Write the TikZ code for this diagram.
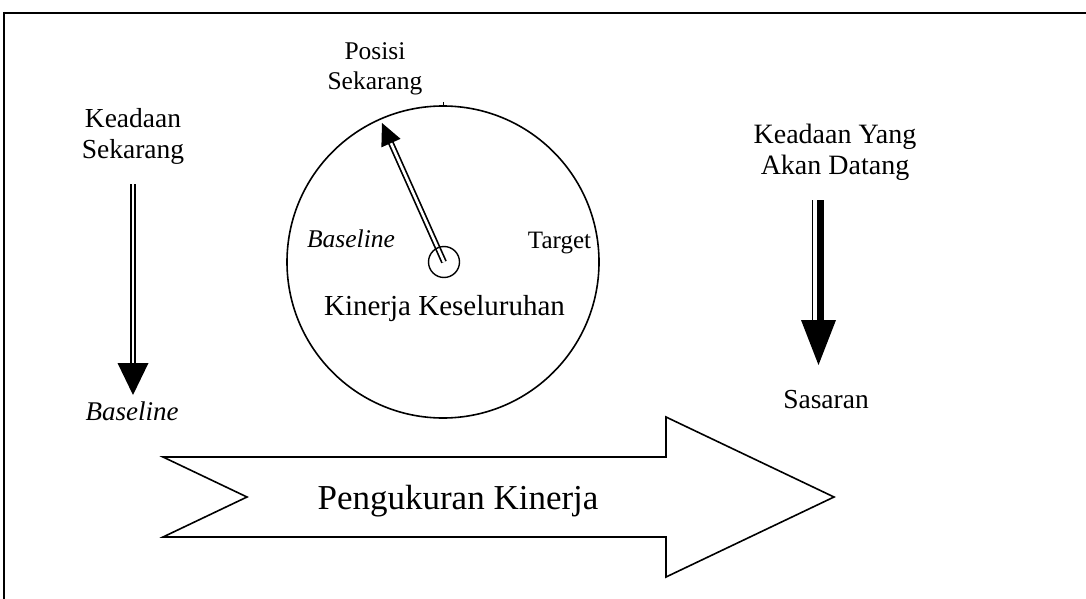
\documentclass[tikz,border=0pt]{standalone}
\usepackage{fontspec}
\setmainfont{Liberation Serif}
\usetikzlibrary{calc}

\tikzset{
  txt/.style={inner sep=0pt,anchor=base,align=center},
  dbl/.style={double,double distance=2pt,line width=2.2pt},
}

\begin{document}
\begin{tikzpicture}[x=1pt,y=-1pt]
  \useasboundingbox (0,0) rectangle (1086,599);
  % frame, open on the right and at the bottom
  \path[draw,line width=2.4pt] (3,13) -- (1086,13);
  \path[draw,line width=1.4pt] (4,12) -- (4,599);

  % left column (base = baseline of the last line)
  \node[txt,font=\fontsize{27.5}{31}\selectfont] (keadaan) at (133,158) {Keadaan\\Sekarang};
  \node[txt,font=\fontsize{27}{31}\selectfont] (baseleft) at (132,420) {\textit{Baseline}};
  \coordinate (lefttop) at (133,184);
  \coordinate (lefttip) at (133,395);
  \path[draw,dbl] (lefttop) -- ($(lefttip)+(0,-29)$);
  \path[fill] ($(lefttip)+(-15.5,-32)$) -- ($(lefttip)+(15.5,-32)$) -- (lefttip) -- cycle;

  % gauge
  \path[draw,line width=1.6pt] (443,262) circle[radius=156pt];
  \path[draw,line width=1pt] (443,102) -- (443,106);
  \node[txt,font=\fontsize{25.5}{30}\selectfont] (posisi) at (375,90) {Posisi\\Sekarang};
  \node[txt,font=\fontsize{25.5}{30}\selectfont] (basegauge) at (351,247) {\textit{Baseline}};
  \node[txt,font=\fontsize{25}{30}\selectfont] (target) at (559.5,248) {Target};
  \node[txt,font=\fontsize{29}{34}\selectfont] (kinerja) at (444.5,315) {Kinerja Keseluruhan};
  \coordinate (hub) at (444,262);
  \coordinate (needletip) at (382,123);
  \coordinate (needlebase) at ($(needletip)!22pt!(hub)$);
  \path[draw,dbl,line width=1.7pt,double distance=2.6pt] (hub) -- ($(needletip)!19pt!(hub)$);
  \path[fill] (needletip) -- ($(needlebase)!10.5pt!90:(needletip)$) -- ($(needlebase)!10.5pt!-90:(needletip)$) -- cycle;
  \path[draw,line width=1.4pt] (hub) circle[radius=15.5pt];

  % right column
  \node[txt,font=\fontsize{28}{31}\selectfont] (akan) at (835,174) {Keadaan Yang\\Akan Datang};
  \node[txt,font=\fontsize{27.5}{31}\selectfont] (sasaran) at (826,408) {Sasaran};
  \coordinate (righttop) at (818.5,200);
  \coordinate (righttip) at (818.5,365);
  \path[draw,line width=1.7pt] ($(righttop)+(-6,0)$) -- ($(righttip)+(-6,-43)$);
  \path[draw,line width=7.6pt] ($(righttop)+(2,0)$) -- ($(righttip)+(2,-43)$);
  \path[fill] ($(righttip)+(-17.5,-45)$) -- ($(righttip)+(17.5,-45)$) -- (righttip) -- cycle;

  % big arrow
  \path[draw,line width=1.6pt,line join=miter] (163,457) -- (666,457) -- (666,417) -- (834,497)
    -- (666,577) -- (666,537) -- (163,537) -- (247,497) -- cycle;
  \node[txt,font=\fontsize{35}{40}\selectfont] (pengukuran) at (458,509) {Pengukuran Kinerja};
\end{tikzpicture}
\end{document}
